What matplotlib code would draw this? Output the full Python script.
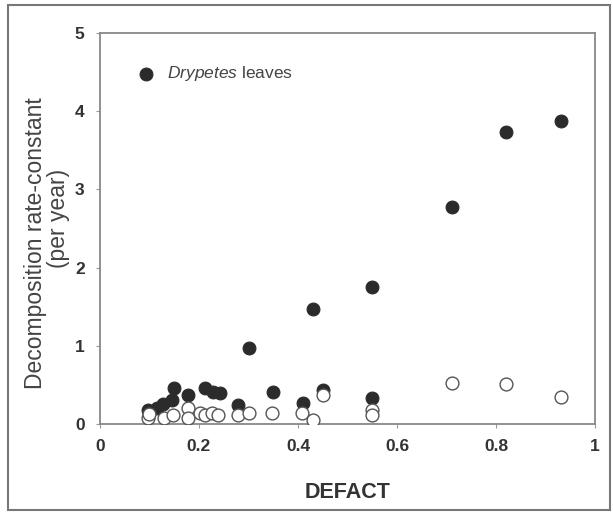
import numpy as np
import matplotlib
matplotlib.use("Agg")
from matplotlib import pyplot as plt
from matplotlib.patches import Rectangle

plt.rcParams['font.family'] = ['Liberation Sans', 'DejaVu Sans']
plt.rcParams['mathtext.fontset'] = 'custom'
plt.rcParams['mathtext.it'] = 'Liberation Sans:italic'
plt.rcParams['mathtext.rm'] = 'Liberation Sans'

# Drypetes leaves (filled)
leaf_defact = [0.097, 0.115, 0.127, 0.145, 0.150, 0.178, 0.212, 0.228, 0.242, 0.279,
               0.300, 0.350, 0.410, 0.430, 0.450, 0.550, 0.550, 0.710, 0.820, 0.930]
leaf_k = [0.18, 0.20, 0.26, 0.31, 0.46, 0.37, 0.46, 0.41, 0.40, 0.24,
          0.97, 0.41, 0.27, 1.47, 0.43, 0.33, 1.75, 2.77, 3.74, 3.88]
# other litter (open)
other_defact = [0.097, 0.100, 0.130, 0.148, 0.178, 0.178, 0.202, 0.212, 0.226, 0.238,
                0.279, 0.300, 0.347, 0.408, 0.430, 0.450, 0.550, 0.550, 0.710, 0.820, 0.930]
other_k = [0.08, 0.13, 0.08, 0.12, 0.20, 0.08, 0.14, 0.12, 0.14, 0.12,
           0.12, 0.14, 0.14, 0.14, 0.05, 0.37, 0.18, 0.12, 0.52, 0.51, 0.35]

xticks = [0, 0.2, 0.4, 0.6, 0.8, 1]
xticklabels = ['0', '0.2', '0.4', '0.6', '0.8', '1']
yticks = [0, 1, 2, 3, 4, 5]

fig = plt.figure(figsize=(6.13, 5.17), dpi=100)
fig.patches.append(Rectangle((0.013, 0.014), 0.982, 0.976, transform=fig.transFigure,
                             fill=False, edgecolor='#777777', linewidth=1.5))
ax = fig.add_axes([0.163, 0.180, 0.808, 0.756])

ax.scatter(leaf_defact, leaf_k, s=85, c='#2b2b2b', edgecolors='#2b2b2b', linewidths=0.8,
           zorder=3, label=r'$\it{Drypetes}$ leaves')
ax.scatter(other_defact, other_k, s=85, c='white', edgecolors='#555555', linewidths=1.0,
           zorder=4)

ax.set_xlim(0, 1)
ax.set_ylim(0, 5)
ax.set_xticks(xticks)
ax.set_xticklabels(xticklabels)
ax.set_yticks(yticks)
for s in ax.spines.values():
    s.set_color('#888888')
    s.set_linewidth(1.3)
ax.tick_params(axis='both', length=3, color='#999999', labelsize=12.5, labelcolor='#333333', pad=8)
for lab in ax.get_xticklabels() + ax.get_yticklabels():
    lab.set_fontweight('bold')

ax.set_xlabel('DEFACT', fontsize=15.5, fontweight='bold', color='#333333', labelpad=20)
fig.text(0.058, 0.530, 'Decomposition rate-constant', rotation=90, ha='center', va='center',
         fontsize=16.5, color='#444444')
fig.text(0.096, 0.578, '(per year)', rotation=90, ha='center', va='center',
         fontsize=16.5, color='#444444')

ax.legend(loc='upper left', bbox_to_anchor=(0.026, 0.96), frameon=False, fontsize=12.5,
          handletextpad=0.2, markerscale=1.0, labelcolor='#444444')

plt.savefig('out.png', dpi=100)
